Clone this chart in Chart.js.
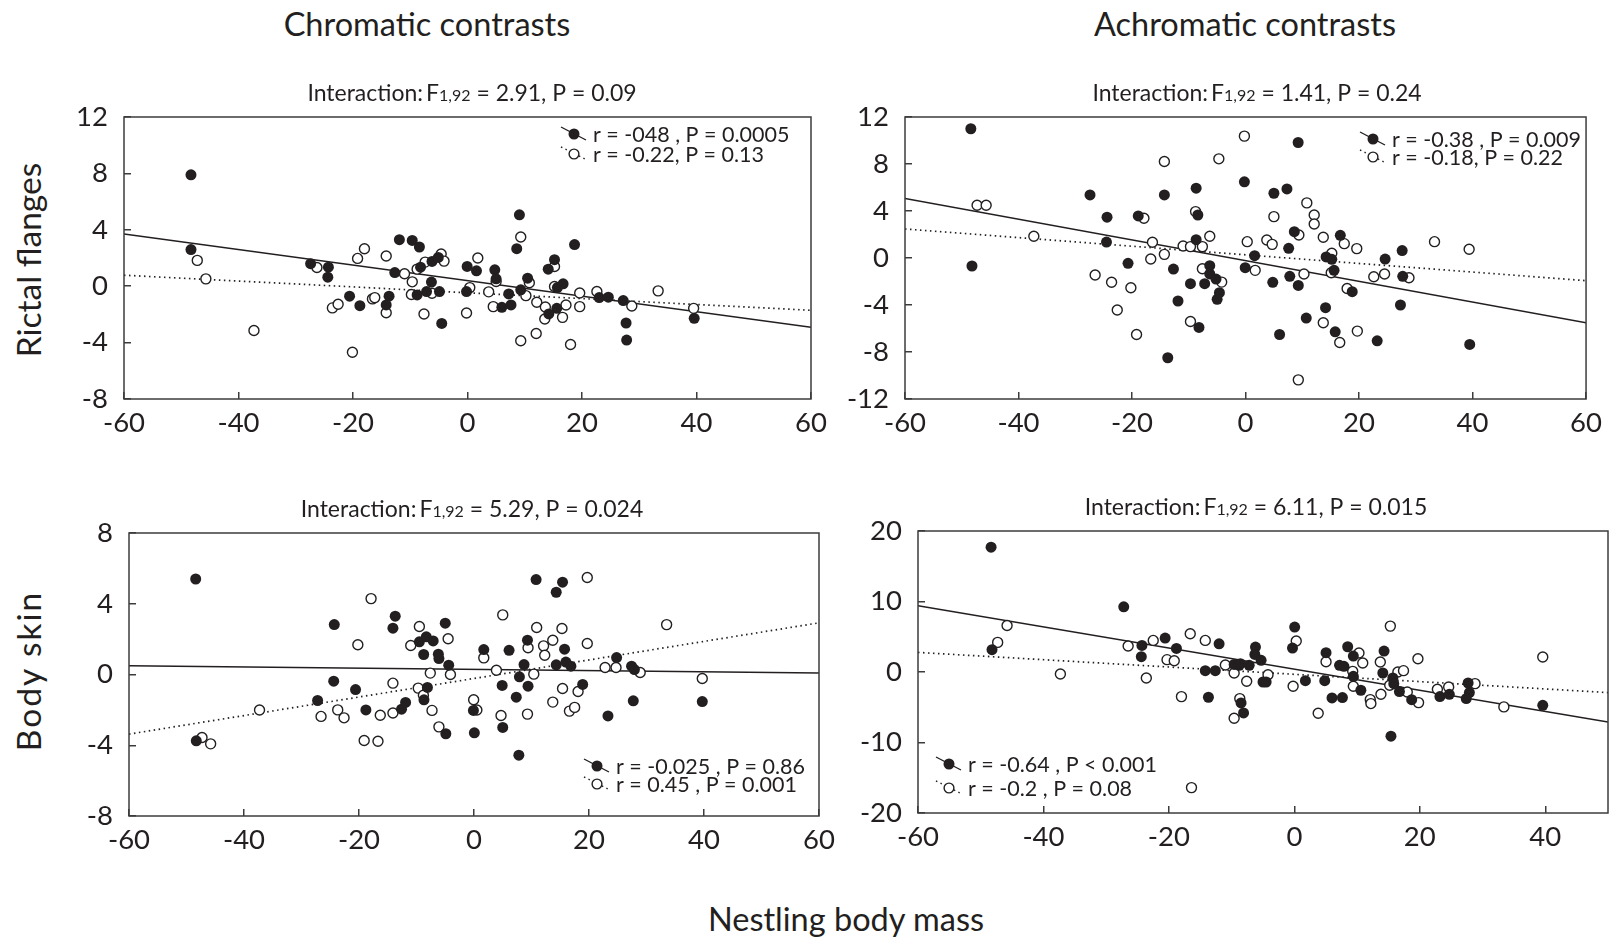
<!DOCTYPE html>
<html>
<head>
<meta charset="utf-8">
<script src="https://cdn.jsdelivr.net/npm/chart.js@4.4.1/dist/chart.umd.min.js"></script>
<style>
  html, body { margin: 0; padding: 0; background: #fff; overflow: hidden; }
  #page { position: relative; width: 1617px; height: 942px; font-family: Lato, sans-serif; color: #231f20; }
  .lbl { position: absolute; white-space: nowrap; transform: translate(-50%, -50%); font-size: 32.5px; }
  .rot { transform: translate(-50%, -50%) rotate(-90deg); font-size: 33.5px; }
  canvas { position: absolute; }
</style>
</head>
<body>
<div id="page">
  <div class="lbl" style="left:427px;top:23px">Chromatic contrasts</div>
  <div class="lbl" style="left:1245px;top:23px">Achromatic contrasts</div>
  <div class="lbl rot" style="left:28px;top:260px">Rictal flanges</div>
  <div class="lbl rot" style="left:28px;top:671px;letter-spacing:2px">Body skin</div>
  <div class="lbl" style="left:846px;top:918px">Nestling body mass</div>
</div>
<script>
// ---- data ----
// x ticks / y ticks
const xTicks = [-60, -40, -20, 0, 20, 40, 60];
const xTicksAchroSkin = [-60, -40, -20, 0, 20, 40];
const yTicksRictalChrom = [-8, -4, 0, 4, 8, 12];
const yTicksRictalAchrom = [-12, -8, -4, 0, 4, 8, 12];
const yTicksSkinChrom = [-8, -4, 0, 4, 8];
const yTicksSkinAchrom = [-20, -10, 0, 10, 20];

// Rictal flanges, chromatic contrasts
const rcFilledX = [-48.3, -48.3, -27.4, -24.3, -24.4, -20.6, -18.8, -11.9, -9.65, -8.4, -12.7, -13.7, -14.2, -8.2, -8.8, -7.15, -6.3, -6.2, -5.1, -4.9, -4.5, -0.06, -0.17, 1.57, 9.07, 8.6, 4.77, 5.0, 6.0, 7.6, 7.2, 9.3, 10.5, 14.1, 15.2, 15.7, 16.7, 14.2, 15.6, 18.7, 23.0, 24.6, 27.2, 27.7, 27.8, 39.6];
const rcFilledY = [7.9, 2.6, 1.6, 1.35, 0.64, -0.71, -1.38, 3.3, 3.25, 2.78, 0.97, -0.71, -1.33, 1.35, -0.62, -0.38, 0.29, 1.76, 2.04, -0.38, -2.64, 1.4, -0.38, 1.09, 5.06, 2.66, 1.16, 0.52, -1.5, -1.33, -0.55, -0.26, 0.57, 1.21, 1.88, -0.1, 0.17, -1.97, -1.57, 2.95, -0.81, -0.78, -1.02, -2.61, -3.82, -2.28];
const rcOpenX = [-47.2, -45.7, -37.3, -26.3, -23.6, -22.6, -20.1, -19.2, -18.0, -16.6, -16.2, -14.2, -14.2, -11.0, -9.65, -9.8, -8.8, -7.6, -7.4, -6.2, -4.6, -4.1, -0.17, 0.4, 1.8, 3.7, 4.5, 5.0, 9.3, 9.3, 10.2, 10.8, 12.1, 12.0, 13.6, 13.5, 15.2, 15.2, 16.6, 17.2, 18.0, 19.6, 19.6, 22.6, 28.7, 33.3, 39.5];
const rcOpenY = [1.83, 0.52, -3.14, 1.33, -1.54, -1.28, -4.68, 1.97, 2.66, -0.9, -0.81, 2.14, -1.88, 0.88, 0.31, -0.59, 1.21, -1.97, 1.71, -0.5, 2.28, 1.78, -1.9, -0.1, 2.0, -0.4, -1.45, 0.33, 3.49, -3.87, -0.67, 0.24, -1.14, -3.35, -1.47, -2.33, -0.02, 1.4, -2.21, -1.33, -4.13, -0.48, -1.45, -0.38, -1.4, -0.33, -1.57];
const rcSolidLine = [3.71, -2.92];
const rcDottedLine = [0.78, -1.71];

// Rictal flanges, achromatic contrasts
const raFilledX = [-48.4, -48.2, -27.4, -24.4, -24.5, -20.7, -18.9, -14.3, -12.7, -11.9, -8.7, -8.4, -8.7, -9.7, -8.2, -7.2, -6.3, -6.3, -5.2, -4.6, -5.0, -13.7, -0.2, -0.06, 1.6, 9.27, 5.0, 7.3, 8.6, 7.6, 4.8, 7.8, 9.3, 10.7, 6.0, 14.2, 15.2, 15.6, 14.1, 15.8, 16.7, 18.8, 24.6, 27.6, 27.7, 27.3, 23.2, 39.5];
const raFilledY = [11.0, -0.68, 5.37, 3.47, 1.36, -0.45, 3.58, 5.37, -0.94, -3.66, 5.94, 3.66, 1.56, -2.19, -5.91, -2.19, -0.65, -1.36, -1.79, -2.95, -3.52, -8.49, 6.48, -0.82, 0.2, 9.83, 5.51, 5.88, 2.24, 0.82, -2.07, -1.56, -2.33, -5.11, -6.51, 0.09, -0.11, -1.05, -4.23, -6.28, 1.93, -2.87, -0.09, 0.63, -1.56, -4.0, -7.05, -7.36];
const raOpenX = [-47.3, -45.7, -37.3, -26.5, -23.6, -22.6, -20.2, -19.2, -17.9, -16.4, -16.7, -14.3, -14.3, -11.0, -9.7, -7.6, -9.7, -8.8, -6.3, -7.6, -4.2, -4.7, -0.2, 0.3, 1.7, 5.0, 3.75, 4.7, 10.8, 12.1, 12.1, 9.4, 13.7, 15.2, 15.1, 17.4, 19.6, 17.9, 10.3, 13.7, 19.7, 16.6, 9.3, 22.6, 24.5, 28.8, 33.3, 39.4];
const raOpenY = [4.49, 4.49, 1.85, -1.45, -2.07, -4.43, -2.53, -6.51, 3.38, 1.34, -0.09, 0.31, 8.21, 1.02, 0.97, 0.97, -5.4, 3.95, 1.85, -0.91, -2.05, 8.44, 10.37, 1.39, -1.05, 3.52, 1.53, 1.16, 4.69, 3.66, 2.9, 1.96, 1.76, 0.4, -1.25, 1.22, 0.8, -2.59, -1.36, -5.51, -6.22, -7.19, -10.37, -1.59, -1.36, -1.68, 1.39, 0.74];
const raSolidLine = [5.06, -5.51];
const raDottedLine = [2.47, -1.93];

// Body skin, chromatic contrasts
const scFilledX = [-48.4, -48.3, -24.3, -24.4, -27.2, -20.6, -18.8, -13.7, -14.1, -12.6, -11.9, -9.5, -8.3, -7.1, -8.75, -6.2, -6.1, -5.0, -4.4, -8.1, -8.7, -4.9, -0.1, 0.06, 10.8, 15.4, 14.3, 9.3, 1.7, 6.1, 15.75, 8.7, 7.9, 4.9, 9.4, 7.35, 5.0, 7.8, 14.3, 15.98, 16.85, 18.9, 24.8, 27.4, 27.9, 27.7, 23.3, 39.7];
const scFilledY = [5.4, -3.75, 2.82, -0.38, -1.47, -0.85, -2.0, 3.3, 2.62, -1.96, -1.58, 1.85, 2.13, 1.9, 1.13, 1.15, 0.9, 2.9, 0.53, -0.73, -1.43, -3.35, -2.03, -3.3, 5.37, 5.22, 4.65, 1.94, 1.41, 1.37, 1.43, 0.56, -0.13, -0.62, -0.66, -1.28, -2.99, -4.56, 0.55, 0.7, 0.47, -0.56, 0.96, 0.47, 0.28, -1.49, -2.34, -1.53];
const scOpenX = [-47.3, -45.8, -37.3, -26.6, -23.7, -22.6, -20.2, -19.1, -17.9, -16.7, -16.3, -14.1, -14.1, -11.0, -9.5, -9.7, -8.8, -7.6, -7.3, -6.1, -4.5, -4.1, -0.06, 0.5, 1.7, 5.0, 3.9, 4.7, 9.3, 9.4, 10.4, 10.9, 12.1, 12.3, 13.7, 13.7, 15.3, 15.4, 16.6, 17.5, 18.1, 19.7, 19.7, 22.8, 24.7, 28.9, 33.5, 39.7];
const scOpenY = [-3.56, -3.92, -2.01, -2.37, -2.0, -2.45, 1.68, -3.73, 4.29, -3.77, -2.3, -0.49, -2.18, 1.64, 2.71, -0.77, -1.17, 0.08, -2.03, -2.96, 2.02, 0.0, -1.43, -2.01, 0.94, 3.37, 0.24, -2.32, -2.24, 1.51, 0.02, 2.66, 1.62, 1.09, 1.94, -1.56, 2.6, -0.79, -2.07, -1.86, -0.96, 5.48, 1.75, 0.4, 0.4, 0.11, 2.82, -0.23];
const scSolidLine = [0.49, 0.08];
const scDottedLine = [-3.37, 2.92];

// Body skin, achromatic contrasts
const saFilledX = [-48.35, -48.2, -27.2, -24.3, -24.4, -20.6, -18.8, -14.2, -12.6, -12.0, -13.7, -9.6, -8.8, -8.6, -7.2, -8.5, -8.1, -6.2, -6.3, -5.3, -5.0, -4.5, 0.05, -0.3, 1.76, 5.05, 4.84, 6.0, 7.66, 7.2, 7.9, 8.5, 9.4, 9.4, 10.6, 14.3, 14.1, 15.7, 15.85, 16.75, 15.4, 18.7, 23.2, 24.7, 27.7, 27.9, 27.4, 39.6];
const saFilledY = [17.7, 3.16, 9.25, 3.77, 2.17, 4.81, 3.35, 0.19, 0.19, 4.0, -3.58, 1.08, 0.94, 1.18, 0.94, -4.39, -5.8, 3.54, 2.5, 1.65, -1.42, -1.42, 6.37, 3.4, -1.23, 2.74, -1.23, -3.68, -3.63, 0.94, 0.8, 3.58, 2.26, -0.61, -2.59, 2.97, -0.14, -0.85, -1.65, -2.78, -9.1, -3.92, -3.49, -3.16, -1.56, -2.92, -3.77, -4.72];
const saOpenX = [-47.3, -45.8, -37.3, -26.5, -23.6, -22.5, -20.3, -19.15, -18.0, -16.6, -14.2, -11.0, -9.6, -9.6, -8.7, -7.6, -4.2, -0.2, 0.3, 3.8, 5.05, 9.3, 9.4, 10.3, 10.9, 12.1, 12.2, 13.8, 13.7, 15.2, 15.3, 16.5, 17.4, 18.0, 19.7, 19.8, 22.8, 24.6, 28.8, 33.4, 39.6, -16.4];
const saOpenY = [4.2, 6.6, -0.28, 3.68, -0.85, 4.48, 1.75, 1.6, -3.49, 5.42, 4.48, 0.99, -0.14, -6.56, -3.77, -1.32, -0.38, -2.03, 4.39, -5.85, 1.46, 0.09, -2.03, 2.69, 1.27, -3.92, -4.48, -3.16, 1.42, -1.89, 6.51, 0.0, 0.19, -2.83, 1.89, -4.34, -2.45, -2.12, -1.65, -4.95, 2.12, -16.4];
const saSolidLine = [9.39, -7.08];
const saDottedLine = [2.78, -2.92];

// statistics text
const interactionStats = ['= 2.91, P = 0.09', '= 1.41, P = 0.24', '= 5.29, P = 0.024', '= 6.11, P = 0.015'];
const legendFilled = ['r = -048 , P = 0.0005', 'r = -0.38 , P = 0.009', 'r = -0.025 , P = 0.86', 'r = -0.64 , P < 0.001'];
const legendOpen = ['r = -0.22, P = 0.13', 'r = -0.18, P = 0.22', 'r = 0.45 , P = 0.001', 'r = -0.2 , P = 0.08'];

// ---- layout ----
const INK = '#231f20';
const AXIS = '#3c3c3c';
const FONT = 'Lato, sans-serif';
const PAD_L = 80, PAD_T = 60, PAD_B = 50;

const panels = [
  { area: { l: 124, t: 117, r: 811, b: 399 }, xMin: -60, xMax: 60, xt: xTicks, yt: yTicksRictalChrom,
    fx: rcFilledX, fy: rcFilledY, ox: rcOpenX, oy: rcOpenY, solid: rcSolidLine, dotted: rcDottedLine,
    subX: 472, leg: { x: 593, y: 134, dy: 20 } },
  { area: { l: 905, t: 117, r: 1587, b: 399 }, xMin: -60, xMax: 60, xt: xTicks, yt: yTicksRictalAchrom,
    fx: raFilledX, fy: raFilledY, ox: raOpenX, oy: raOpenY, solid: raSolidLine, dotted: raDottedLine,
    subX: 1257, leg: { x: 1392, y: 139, dy: 18 } },
  { area: { l: 129, t: 533, r: 819, b: 816 }, xMin: -60, xMax: 60, xt: xTicks, yt: yTicksSkinChrom,
    fx: scFilledX, fy: scFilledY, ox: scOpenX, oy: scOpenY, solid: scSolidLine, dotted: scDottedLine,
    subX: 472, leg: { x: 616, y: 766, dy: 18 } },
  { area: { l: 918, t: 531, r: 1608, b: 813 }, xMin: -60, xMax: 50, xt: xTicksAchroSkin, yt: yTicksSkinAchrom,
    fx: saFilledX, fy: saFilledY, ox: saOpenX, oy: saOpenY, solid: saSolidLine, dotted: saDottedLine,
    subX: 1256, leg: { x: 968, y: 764, dy: 24 } },
];

// draws the frame box, the "Interaction" line and the small r/P legend
const panelDecor = {
  id: 'panelDecor',
  afterDraw(chart, args, o) {
    const { ctx, chartArea: a } = chart;
    ctx.save();
    ctx.strokeStyle = AXIS;
    ctx.lineWidth = 1.5;
    ctx.strokeRect(a.left, a.top, a.right - a.left, a.bottom - a.top);

    // subtitle with small "1,92"
    ctx.fillStyle = INK;
    ctx.textBaseline = 'alphabetic';
    const big = '23px ' + FONT, small = '16px ' + FONT;
    const parts = [['Interaction:', big, 3], ['F', big, 0], ['1,92', small, 0], [' ' + o.stat, big, 0]];
    let total = 0;
    parts.forEach(p => { ctx.font = p[1]; total += ctx.measureText(p[0]).width + p[2]; });
    let x = o.subX - o.offX - total / 2;
    const base = a.top - 16;
    parts.forEach(p => { ctx.font = p[1]; ctx.fillText(p[0], x, base); x += ctx.measureText(p[0]).width + p[2]; });

    // legend
    const lx = o.leg.x - o.offX, ly = o.leg.y - o.offY;
    ctx.font = '21.5px ' + FONT;
    ctx.fillText(o.l1, lx, ly + 8);
    ctx.fillText(o.l2, lx, ly + o.leg.dy + 8);
    ctx.lineWidth = 1.4;
    ctx.strokeStyle = INK;
    ctx.beginPath();
    ctx.moveTo(lx - 32, ly - 7); ctx.lineTo(lx - 7, ly + 6);
    ctx.stroke();
    ctx.beginPath();
    ctx.arc(lx - 19, ly, 5.5, 0, Math.PI * 2);
    ctx.fill();
    const y2 = ly + o.leg.dy;
    ctx.setLineDash([1.5, 3.5]);
    ctx.beginPath();
    ctx.moveTo(lx - 32, y2 - 7); ctx.lineTo(lx - 6, y2 + 6);
    ctx.stroke();
    ctx.setLineDash([]);
    ctx.fillStyle = '#fff';
    ctx.lineWidth = 1.4;
    ctx.beginPath();
    ctx.arc(lx - 19, y2, 4.9, 0, Math.PI * 2);
    ctx.fill();
    ctx.stroke();
    ctx.restore();
  }
};

const page = document.getElementById('page');

panels.forEach((p, i) => {
  const padR = Math.min(40, 1617 - p.area.r);
  const cv = document.createElement('canvas');
  const w = p.area.r - p.area.l + PAD_L + padR;
  const h = p.area.b - p.area.t + PAD_T + PAD_B;
  const offX = p.area.l - PAD_L, offY = p.area.t - PAD_T;
  cv.width = w; cv.height = h;
  cv.style.left = offX + 'px';
  cv.style.top = offY + 'px';
  cv.style.width = w + 'px';
  cv.style.height = h + 'px';
  page.appendChild(cv);

  const filled = p.fx.map((x, k) => ({ x: x, y: p.fy[k] }));
  const open = p.ox.map((x, k) => ({ x: x, y: p.oy[k] }));
  const solid = [{ x: p.xMin, y: p.solid[0] }, { x: p.xMax, y: p.solid[1] }];
  const dotted = [{ x: p.xMin, y: p.dotted[0] }, { x: p.xMax, y: p.dotted[1] }];

  new Chart(cv, {
    type: 'scatter',
    data: {
      datasets: [
        { data: filled, pointRadius: 5.5, pointBackgroundColor: INK, pointBorderWidth: 0, showLine: false },
        { data: open, pointRadius: 5.0, pointBackgroundColor: '#fff', pointBorderColor: INK, pointBorderWidth: 1.4, showLine: false },
        { type: 'line', data: solid, borderColor: INK, borderWidth: 1.5, pointRadius: 0, fill: false },
        { type: 'line', data: dotted, borderColor: INK, borderWidth: 1.7, borderDash: [1.5, 3.5], pointRadius: 0, fill: false },
      ]
    },
    options: {
      responsive: false,
      animation: false,
      devicePixelRatio: 1,
      layout: { padding: { left: 0, top: PAD_T, right: padR, bottom: 0 } },
      plugins: {
        legend: { display: false },
        tooltip: { enabled: false },
        panelDecor: { stat: interactionStats[i], l1: legendFilled[i], l2: legendOpen[i], subX: p.subX, leg: p.leg, offX: offX, offY: offY }
      },
      scales: {
        x: {
          type: 'linear', min: p.xMin, max: p.xMax,
          afterBuildTicks: s => { s.ticks = p.xt.map(v => ({ value: v })); },
          afterFit: s => { s.height = PAD_B; },
          grid: { drawOnChartArea: false, drawTicks: true, tickLength: -7, color: AXIS, lineWidth: 1.5 },
          border: { display: false },
          ticks: { color: INK, font: { family: FONT, size: 27.5 }, padding: 15, maxRotation: 0 }
        },
        y: {
          type: 'linear', min: p.yt[0], max: p.yt[p.yt.length - 1],
          afterBuildTicks: s => { s.ticks = p.yt.map(v => ({ value: v })); },
          afterFit: s => { s.width = PAD_L; },
          grid: { drawOnChartArea: false, drawTicks: true, tickLength: -7, color: AXIS, lineWidth: 1.5 },
          border: { display: false },
          ticks: { color: INK, font: { family: FONT, size: 27.5 }, padding: 23 }
        }
      }
    },
    plugins: [panelDecor]
  });
});
</script>
</body>
</html>
